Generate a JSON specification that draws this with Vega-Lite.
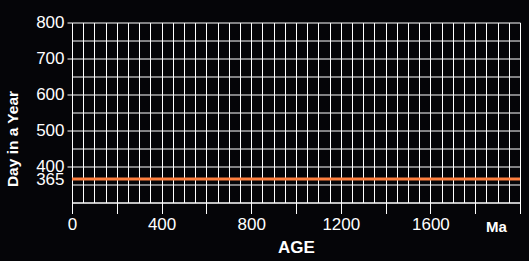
{
  "$schema": "https://vega.github.io/schema/vega-lite/v6.json",
  "width": 448,
  "height": 180,
  "autosize": {"type": "none"},
  "padding": {"left": 72, "top": 22.5, "right": 9, "bottom": 58.5},
  "background": "#050508",
  "config": {
    "view": {"stroke": null},
    "font": "Liberation Sans",
    "axis": {
      "domainColor": "white",
      "domainWidth": 1,
      "gridColor": "white",
      "gridOpacity": 1,
      "gridWidth": 1,
      "tickColor": "white",
      "tickWidth": 1,
      "labelColor": "white",
      "titleColor": "white",
      "labelFont": "Liberation Sans",
      "titleFont": "Liberation Sans"
    }
  },
  "data": {
    "values": [
      {"age": 0, "days": 365},
      {"age": 2000, "days": 365}
    ]
  },
  "mark": {"type": "line", "color": "#ff8040", "strokeWidth": 3, "clip": true},
  "encoding": {
    "x": {
      "field": "age",
      "type": "quantitative",
      "scale": {"domain": [0, 2000], "nice": false, "zero": false},
      "axis": {
        "title": "AGE",
        "titleFontSize": 17,
        "titleFontWeight": "bold",
        "titleBaseline": "alphabetic",
        "titleY": 50,
        "values": [0,50,100,150,200,250,300,350,400,450,500,550,600,650,700,750,800,850,900,950,1000,1050,1100,1150,1200,1250,1300,1350,1400,1450,1500,1550,1600,1650,1700,1750,1800,1850,1900,1950,2000],
        "format": "d",
        "labelOverlap": false,
        "labelFlush": false,
        "labelFontSize": {"expr": "datum.value == 2000 ? 15 : 17"},
        "labelFontWeight": {"expr": "datum.value == 2000 ? 'bold' : 'normal'"},
        "labelOffset": {"expr": "datum.value == 2000 ? -24 : 0"},
        "labelPadding": {"expr": "datum.value == 2000 ? 6 : 3"},
        "labelExpr": "datum.value == 2000 ? 'Ma' : (datum.value % 400 == 0 ? datum.label : '')",
        "tickSize": 11,
        "tickOpacity": {"expr": "datum.value % 200 == 0 ? 1 : 0"}
      }
    },
    "y": {
      "field": "days",
      "type": "quantitative",
      "scale": {"domain": [300, 800], "nice": false, "zero": false},
      "axis": {
        "title": "Day in a Year",
        "titleFontSize": 15.5,
        "titleFontWeight": "bold",
        "titleAngle": -90,
        "titleAlign": "center",
        "titleBaseline": "alphabetic",
        "titleX": -55,
        "titleY": 116,
        "values": [300,350,365,400,450,500,550,600,650,700,750,800],
        "format": "d",
        "labelOverlap": false,
        "labelFontSize": 17,
        "labelPadding": 3,
        "labelExpr": "datum.value == 365 || (datum.value >= 400 && datum.value % 100 == 0) ? datum.label : ''",
        "tickSize": 5,
        "tickOpacity": {"expr": "datum.value >= 400 && datum.value % 100 == 0 ? 1 : 0"},
        "gridOpacity": {"expr": "datum.value == 365 ? 0 : 1"}
      }
    }
  }
}
